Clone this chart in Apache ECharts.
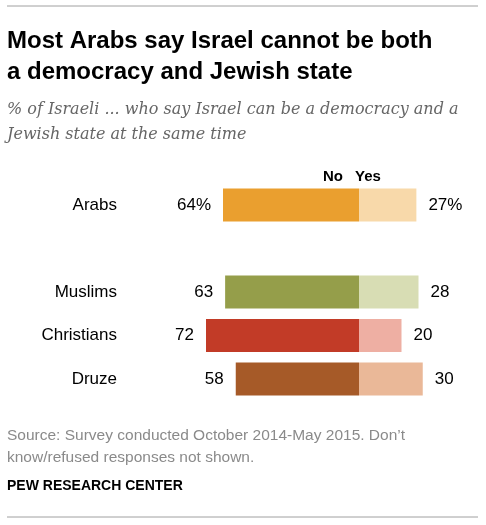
<!DOCTYPE html>
<html>
<head>
<meta charset="utf-8">
<script src="https://cdn.jsdelivr.net/npm/echarts@6/dist/echarts.min.js"></script>
<style>
html,body{margin:0;padding:0;background:#fff;}
#c{width:486px;height:525px;}
</style>
</head>
<body>
<div id="c"></div>
<script>
var categories = ['Arabs', '', 'Muslims', 'Christians', 'Druze'];
var noValues = [64, null, 63, 72, 58];
var yesValues = [27, null, 28, 20, 30];
var noColors = ['#EA9F2F', null, '#959E4A', '#C23B27', '#A65A28'];
var yesColors = ['#F8D9AA', null, '#D8DDB4', '#EEAFA3', '#EAB898'];

var chart = echarts.init(document.getElementById('c'), null, {renderer: 'canvas'});
var labelFont = 'Liberation Sans';

var noData = noValues.map(function (v, i) {
  return v == null ? null : {value: -v, itemStyle: {color: noColors[i]}};
});
var yesData = yesValues.map(function (v, i) {
  return v == null ? null : {value: v, itemStyle: {color: yesColors[i]}};
});

var option = {
  animation: false,
  backgroundColor: '#fff',
  title: [
    {
      text: 'Most Arabs say Israel cannot be both\na democracy and Jewish state',
      left: 7, top: 26, padding: 0,
      textStyle: {fontFamily: labelFont, fontWeight: 'bold', fontSize: 24, color: '#000', lineHeight: 31}
    },
    {
      text: '% of Israeli ... who say Israel can be a democracy and a\nJewish state at the same time',
      left: 7, top: 97, padding: 0,
      textStyle: {fontFamily: 'DejaVu Serif', fontStyle: 'italic', fontWeight: 'normal', fontSize: 16, color: '#666', lineHeight: 25}
    },
    {
      text: 'Source: Survey conducted October 2014-May 2015. Don\u2019t\nknow/refused responses not shown.',
      left: 7, top: 425, padding: 0,
      textStyle: {fontFamily: labelFont, fontWeight: 'normal', fontSize: 15.5, color: '#8a8a8a', lineHeight: 22}
    },
    {
      text: 'PEW RESEARCH CENTER',
      left: 7, top: 479, padding: 0,
      textStyle: {fontFamily: labelFont, fontWeight: 'bold', fontSize: 14, color: '#000'}
    }
  ],
  graphic: [
    {type: 'line', shape: {x1: 7, y1: 6, x2: 478, y2: 6}, style: {stroke: '#a0a0a0', lineWidth: 1}},
    {type: 'line', shape: {x1: 7, y1: 517, x2: 478, y2: 517}, style: {stroke: '#a0a0a0', lineWidth: 1}},
    {type: 'text', x: 343, y: 177, style: {text: 'No', align: 'right', verticalAlign: 'middle', font: 'bold 15px "Liberation Sans"', fill: '#000'}},
    {type: 'text', x: 355, y: 177, style: {text: 'Yes', align: 'left', verticalAlign: 'middle', font: 'bold 15px "Liberation Sans"', fill: '#000'}}
  ],
  grid: {left: 189, right: 20.75, top: 183.25, bottom: 124.25, containLabel: false},
  xAxis: {
    type: 'value', min: -80, max: 50, show: false
  },
  yAxis: {
    type: 'category', data: categories, inverse: true,
    axisLine: {show: false}, axisTick: {show: false}, splitLine: {show: false},
    axisLabel: {margin: 72, fontFamily: labelFont, fontSize: 17, color: '#000', align: 'right'}
  },
  series: [
    {
      name: 'No', type: 'bar', stack: 'a', barWidth: 33, data: noData,
      label: {
        show: true, position: 'left', distance: 12,
        fontFamily: labelFont, fontSize: 17, color: '#000',
        formatter: function (p) { var v = Math.abs(p.value); return p.dataIndex === 0 ? v + '%' : '' + v; }
      }
    },
    {
      name: 'Yes', type: 'bar', stack: 'a', barWidth: 33, data: yesData,
      label: {
        show: true, position: 'right', distance: 12,
        fontFamily: labelFont, fontSize: 17, color: '#000',
        formatter: function (p) { return p.dataIndex === 0 ? p.value + '%' : '' + p.value; }
      }
    }
  ]
};
chart.setOption(option);
</script>
</body>
</html>
